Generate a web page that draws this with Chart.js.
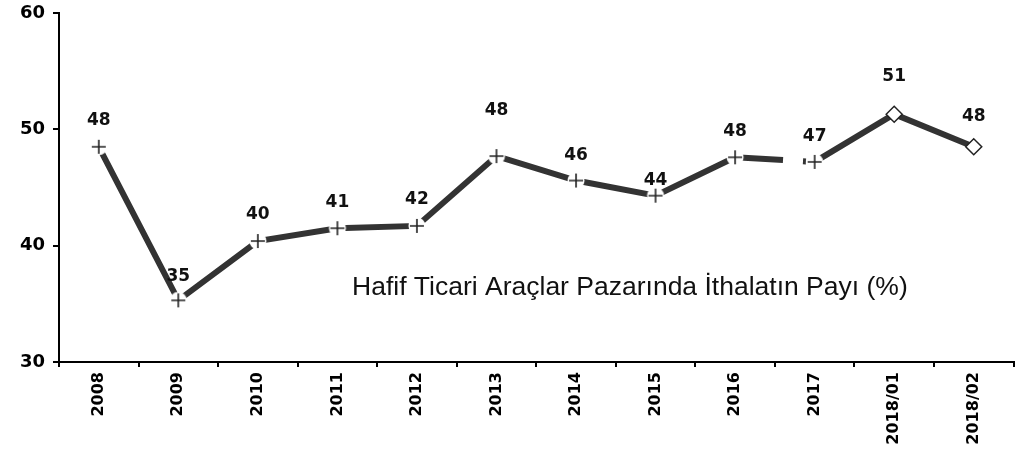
<!DOCTYPE html>
<html>
<head>
<meta charset="utf-8">
<script src="https://cdn.jsdelivr.net/npm/chart.js@4/dist/chart.umd.min.js"></script>
<style>
  html, body { margin: 0; padding: 0; background: #fff; }
  #wrap { width: 1025px; height: 456px; position: relative; }
</style>
</head>
<body>
<div id="wrap"><canvas id="c" width="1025" height="456"></canvas></div>
<script>
const YEARS = ['2008', '2009', '2010', '2011', '2012', '2013', '2014', '2015', '2016', '2017', '2018/01', '2018/02'];
const IMPORT_SHARE = [48.5, 35.3, 40.4, 41.5, 41.7, 47.7, 45.6, 44.3, 47.6, 47.2, 51.3, 48.5];
const SHARE_LABELS = ['48', '35', '40', '41', '42', '48', '46', '44', '48', '47', '51', '48'];
const Y_TICKS = [30, 40, 50, 60];
const TITLE = 'Hafif Ticari Araçlar Pazarında İthalatın Payı (%)';

const INK = '#333333';

// "+" marker on a white disc, so the thick line stops short of it like the original
function plusMarker() {
  const c = document.createElement('canvas');
  c.width = 20; c.height = 20;
  const g = c.getContext('2d');
  g.fillStyle = '#fff';
  g.beginPath(); g.arc(10, 10, 8.5, 0, Math.PI * 2); g.fill();
  g.strokeStyle = '#222';
  g.lineWidth = 1.6;
  g.beginPath();
  g.moveTo(3, 10); g.lineTo(17, 10);
  g.moveTo(10, 3); g.lineTo(10, 17);
  g.stroke();
  return c;
}
const PLUS = plusMarker();

const pointLabels = {
  id: 'pointLabels',
  afterDatasetsDraw(chart, args, opts) {
    const ctx = chart.ctx;
    const meta = chart.getDatasetMeta(0);
    ctx.save();
    ctx.font = 'bold 17px "DejaVu Sans"';
    ctx.fillStyle = '#111';
    ctx.textAlign = 'center';
    ctx.textBaseline = 'middle';
    meta.data.forEach((pt, i) => {
      ctx.fillText(SHARE_LABELS[i], pt.x, pt.y - opts.lift[i]);
    });
    ctx.restore();
  }
};

const innerTitle = {
  id: 'innerTitle',
  afterDraw(chart) {
    const ctx = chart.ctx;
    const a = chart.chartArea;
    ctx.save();
    ctx.font = '26.5px "Liberation Sans"';
    ctx.fillStyle = '#111';
    ctx.textAlign = 'left';
    ctx.textBaseline = 'middle';
    ctx.fillText(TITLE, a.left + 293, a.top + 275);
    ctx.restore();
  }
};

new Chart(document.getElementById('c'), {
  type: 'line',
  data: {
    labels: YEARS,
    datasets: [{
      data: IMPORT_SHARE,
      borderColor: INK,
      borderWidth: 6,
      tension: 0,
      pointStyle: YEARS.map((y, i) => i >= 10 ? 'rectRot' : PLUS),
      pointRadius: YEARS.map((y, i) => i >= 10 ? 8 : 10),
      pointBackgroundColor: '#fff',
      pointBorderColor: '#222',
      pointBorderWidth: 1.5,
      segment: {
        // the original has a broken stroke between 2016 and 2017
        borderDash: s => s.p0DataIndex === 8 ? [48, 20, 3, 200] : undefined,
      },
    }]
  },
  options: {
    responsive: false,
    animation: false,
    layout: {padding: {top: 13, right: 11, left: 0, bottom: 0}},
    plugins: {
      legend: {display: false},
      tooltip: {enabled: false},
      pointLabels: {lift: [26, 24, 26, 26, 26, 46, 25, 15, 26, 25, 38, 30]},
    },
    scales: {
      x: {
        offset: true,
        grid: {offset: true, drawOnChartArea: false, drawTicks: true, tickLength: 5, color: '#000', lineWidth: 2},
        border: {display: true, color: '#000', width: 2},
        ticks: {
          minRotation: 90, maxRotation: 90, autoSkip: false, padding: 5,
          color: '#000', font: {family: 'DejaVu Sans', weight: 'bold', size: 16},
        },
        afterFit: s => { s.height = 94; },
      },
      y: {
        min: 30, max: 60,
        afterBuildTicks: s => { s.ticks = Y_TICKS.map(v => ({value: v})); },
        grid: {drawOnChartArea: false, drawTicks: true, tickLength: 6, color: '#000', lineWidth: 2},
        border: {display: true, color: '#000', width: 2},
        ticks: {
          padding: 8, color: '#000',
          font: {family: 'DejaVu Sans', weight: 'bold', size: 18},
        },
        // let the layout padding, not the tick label height, set the top edge
        afterFit: s => { s.width = 59; s.paddingTop = 0; s.paddingBottom = 0; },
      },
    },
  },
  plugins: [pointLabels, innerTitle],
});
</script>
</body>
</html>
